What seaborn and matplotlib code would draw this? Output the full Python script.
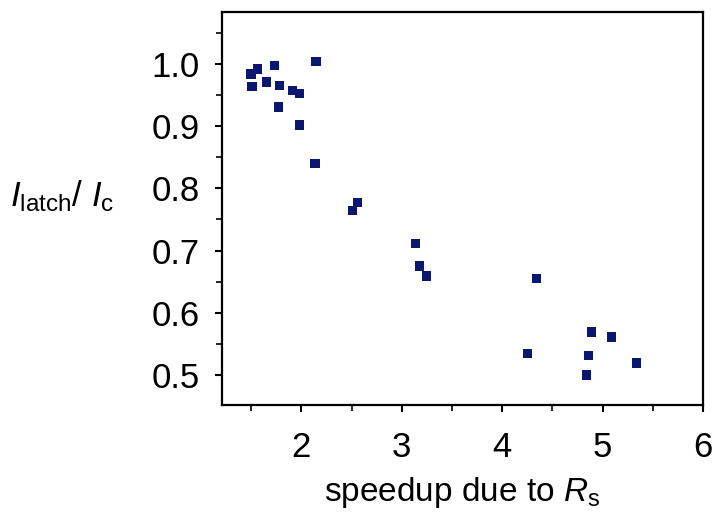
import matplotlib
matplotlib.use("Agg")
import matplotlib.pyplot as plt
import seaborn as sns
import pandas as pd
from matplotlib.ticker import MultipleLocator

speedup = [1.50, 1.565, 1.51, 1.73, 1.655, 1.78, 1.77, 1.91, 1.98, 1.98, 2.146, 2.136,
           2.51, 2.56, 3.14, 3.18, 3.25, 4.34, 4.25, 4.89, 5.09, 4.86, 4.84, 5.34]
ratio = [0.984, 0.992, 0.964, 0.998, 0.971, 0.965, 0.931, 0.958, 0.952, 0.902, 1.004, 0.840,
         0.764, 0.777, 0.711, 0.675, 0.659, 0.655, 0.535, 0.569, 0.561, 0.531, 0.500, 0.519]
x_ticks = [2, 3, 4, 5, 6]
y_ticks = [0.5, 0.6, 0.7, 0.8, 0.9, 1.0]
y_ticklabels = ["0.5", "0.6", "0.7", "0.8", "0.9", "1.0"]

df = pd.DataFrame({"speedup": speedup, "ratio": ratio})

sns.set_style("ticks")
plt.rcParams["font.family"] = ["Liberation Sans", "DejaVu Sans"]
plt.rcParams["mathtext.fontset"] = "custom"
plt.rcParams["mathtext.rm"] = "Liberation Sans"
plt.rcParams["mathtext.it"] = "Liberation Sans:italic"
plt.rcParams["text.color"] = "black"
plt.rcParams["axes.labelcolor"] = "black"

fig = plt.figure(figsize=(7.16, 5.13), dpi=100)
ax = fig.add_axes([0.310, 0.211, 0.672, 0.766])

sns.scatterplot(data=df, x="speedup", y="ratio", marker="s", s=44, color="#0b1670",
                edgecolor="none", linewidth=0, ax=ax, legend=False)

ax.set_xlim(1.21, 6.0)
ax.set_ylim(0.452, 1.084)
ax.xaxis.set_minor_locator(MultipleLocator(0.5))
ax.yaxis.set_minor_locator(MultipleLocator(0.05))
ax.set_xticks(x_ticks)
ax.set_yticks(y_ticks)
ax.set_yticklabels(y_ticklabels)

for s in ax.spines.values():
    s.set_visible(True)
    s.set_linewidth(1.6)
    s.set_color("black")

ax.tick_params(axis="both", which="major", direction="out", length=5, width=1.5,
               labelsize=25, colors="black", labelcolor="black")
ax.tick_params(axis="x", which="major", pad=14)
ax.tick_params(axis="y", which="major", pad=11)
ax.tick_params(axis="both", which="minor", direction="out", length=4, width=1.2, colors="black")
ax.tick_params(top=False, right=False, which="both")

ax.set_xlabel(r"speedup due to $\mathit{R}_{\mathrm{s}}$", fontsize=24, labelpad=8, color="black")
ax.set_ylabel(r"$\mathit{I}_{\mathrm{latch}}$/ $\mathit{I}_{\mathrm{c}}$", fontsize=25,
              rotation=0, ha="center", va="baseline", color="black")
ax.yaxis.set_label_coords(-0.333, 0.506)

fig.savefig("out.png", dpi=100)
